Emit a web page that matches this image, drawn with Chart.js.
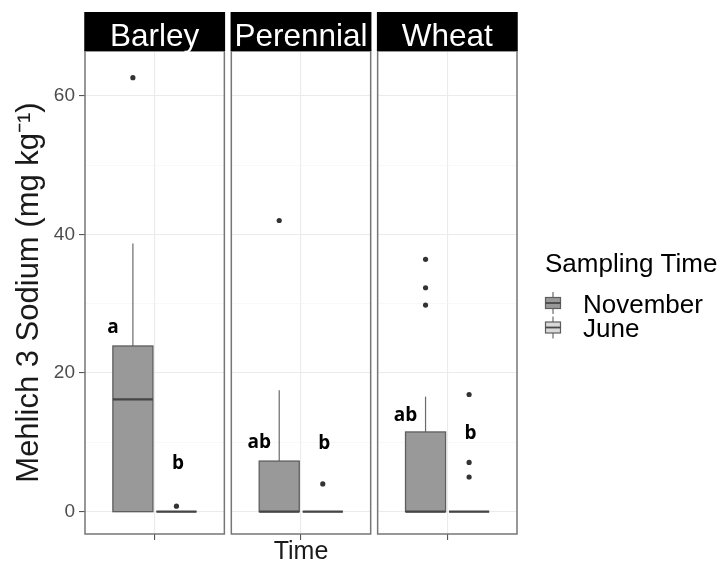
<!DOCTYPE html>
<html>
<head>
<meta charset="utf-8">
<script src="https://cdn.jsdelivr.net/npm/chart.js@4.4.0/dist/chart.umd.min.js"></script>
<style>
html,body{margin:0;padding:0;background:#ffffff;}
#wrap{width:728px;height:565px;position:relative;}
</style>
</head>
<body>
<div id="wrap"><canvas id="c" width="728" height="565"></canvas></div>
<script>
// ---- data ----
const facets = ['Barley', 'Perennial', 'Wheat'];
const groups = ['November', 'June'];
// box stats per facet: [lower whisker, Q1, median, Q3, upper whisker]
const novemberStats = [[0, 0, 16.2, 23.9, 38.7], [0, 0, 0, 7.3, 17.5], [0, 0, 0, 11.5, 16.6]];
const juneStats = [[0, 0, 0, 0, 0], [0, 0, 0, 0, 0], [0, 0, 0, 0, 0]];
const novemberOutliers = [[62.6], [42.0], [36.4, 32.3, 29.8]];
const juneOutliers = [[0.8], [4.0], [16.9, 7.1, 5.0]];
const novemberLetters = ['a', 'ab', 'ab'];
const juneLetters = ['b', 'b', 'b'];
const novemberLetterY = [26.5, 9.9, 13.9];
const juneLetterY = [6.9, 9.8, 11.2];
const yTicks = [0, 10, 20, 30, 40, 50, 60];
const yTickLabels = ['0', '', '20', '', '40', '', '60'];

// ---- layout constants (in data units) ----
const FAMILY = "'Liberation Sans', Arial, sans-serif";
const HALF = 0.6;          // half panel width (discrete expand)
const STEP = 1.26;         // facet spacing incl. gap
const centers = facets.map((f, i) => i * STEP);
const DODGE = 0.1875;
const BOXHALF = 0.1725;
const groupOffset = [-DODGE, DODGE];
const groupFill = ['#999999', '#d9d9d9'];
const allStats = [novemberStats, juneStats];
const allOutliers = [novemberOutliers, juneOutliers];
const allLetters = [novemberLetters, juneLetters];
const allLetterY = [novemberLetterY, juneLetterY];
const letterOffset = [-0.36, 0.2];

const outlierSets = groups.map((g, gi) => ({
  label: g + ' outliers',
  data: allOutliers[gi].flatMap((vals, fi) => vals.map(v => ({ x: centers[fi] + groupOffset[gi], y: v }))),
  backgroundColor: '#333333',
  borderWidth: 0,
  pointRadius: 2.6,
  pointHoverRadius: 2.6
}));

const facetPlugin = {
  id: 'facetPlugin',
  beforeDatasetsDraw(chart) {
    const { ctx, chartArea: a, scales: { x, y } } = chart;
    ctx.save();
    // white gaps between panels
    ctx.fillStyle = '#ffffff';
    for (let i = 0; i < centers.length - 1; i++) {
      const r = x.getPixelForValue(centers[i] + HALF);
      const l = x.getPixelForValue(centers[i + 1] - HALF);
      ctx.fillRect(r, a.top - 2, l - r, a.bottom - a.top + 4);
    }
    // boxplots
    groups.forEach((g, gi) => {
      allStats[gi].forEach((s, fi) => {
        const cx = centers[fi] + groupOffset[gi];
        const px = x.getPixelForValue(cx);
        const x0 = x.getPixelForValue(cx - BOXHALF);
        const x1 = x.getPixelForValue(cx + BOXHALF);
        const [lo, q1, med, q3, hi] = s.map(v => y.getPixelForValue(v));
        ctx.strokeStyle = '#6a6a6a';
        ctx.lineWidth = 1.2;
        ctx.beginPath();
        ctx.moveTo(px, q3); ctx.lineTo(px, hi);
        ctx.moveTo(px, q1); ctx.lineTo(px, lo);
        ctx.stroke();
        ctx.fillStyle = groupFill[gi];
        ctx.fillRect(x0, q3, x1 - x0, q1 - q3);
        ctx.strokeStyle = '#5e5e5e';
        ctx.lineWidth = 1.3;
        ctx.strokeRect(x0, q3, x1 - x0, q1 - q3);
        ctx.strokeStyle = '#454545';
        ctx.lineWidth = 2.3;
        ctx.beginPath();
        ctx.moveTo(x0, med); ctx.lineTo(x1, med);
        ctx.stroke();
      });
    });
    ctx.restore();
  },
  afterDatasetsDraw(chart) {
    const { ctx, chartArea: a, scales: { x, y } } = chart;
    ctx.save();
    // panel borders & strips
    centers.forEach((c, fi) => {
      const l = x.getPixelForValue(c - HALF);
      const r = x.getPixelForValue(c + HALF);
      ctx.strokeStyle = '#767676';
      ctx.lineWidth = 1.5;
      ctx.strokeRect(l, a.top, r - l, a.bottom - a.top);
      ctx.fillStyle = '#000000';
      ctx.fillRect(l - 0.75, 12, r - l + 1.5, a.top - 12);
      ctx.fillStyle = '#ffffff';
      ctx.font = '31.5px ' + FAMILY;
      ctx.textAlign = 'center';
      ctx.textBaseline = 'alphabetic';
      ctx.fillText(facets[fi], (l + r) / 2, 46);
    });
    // letters
    ctx.fillStyle = '#000000';
    ctx.font = "bold 19px 'Open Sans', sans-serif";
    ctx.textAlign = 'center';
    ctx.textBaseline = 'middle';
    groups.forEach((g, gi) => {
      allLetters[gi].forEach((t, fi) => {
        ctx.fillText(t, x.getPixelForValue(centers[fi] + letterOffset[gi]), y.getPixelForValue(allLetterY[gi][fi]));
      });
    });
    // legend
    ctx.textAlign = 'left';
    ctx.textBaseline = 'alphabetic';
    ctx.fillStyle = '#000000';
    ctx.font = '26px ' + FAMILY;
    ctx.fillText('Sampling Time', 545, 272);
    groups.forEach((g, gi) => {
      const cy = 303 + gi * 24.5;
      const cx = 553;
      ctx.strokeStyle = '#6a6a6a';
      ctx.lineWidth = 1.2;
      ctx.beginPath();
      ctx.moveTo(cx, cy - 11); ctx.lineTo(cx, cy + 11);
      ctx.stroke();
      ctx.fillStyle = groupFill[gi];
      ctx.fillRect(cx - 7.5, cy - 5.5, 15, 11);
      ctx.strokeStyle = '#5e5e5e';
      ctx.strokeRect(cx - 7.5, cy - 5.5, 15, 11);
      ctx.strokeStyle = '#484848';
      ctx.lineWidth = 1.8;
      ctx.beginPath();
      ctx.moveTo(cx - 7.5, cy); ctx.lineTo(cx + 7.5, cy);
      ctx.stroke();
      ctx.fillStyle = '#000000';
      ctx.font = '26px ' + FAMILY;
      ctx.fillText(g, 583, cy + 9.5);
    });
    ctx.restore();
  }
};

Chart.defaults.font.family = FAMILY;
new Chart(document.getElementById('c'), {
  type: 'scatter',
  data: { datasets: outlierSets },
  options: {
    responsive: false,
    animation: false,
    events: [],
    layout: { padding: { top: 51, right: 211, left: 0, bottom: 0 } },
    plugins: { legend: { display: false }, tooltip: { enabled: false } },
    scales: {
      x: {
        type: 'linear',
        min: -HALF,
        max: centers[centers.length - 1] + HALF,
        afterBuildTicks: s => { s.ticks = centers.map(v => ({ value: v })); },
        afterFit: s => { s.height = 31; },
        border: { display: false },
        grid: { color: '#ebebeb', lineWidth: 1.1, tickColor: '#555555', tickLength: 6 },
        ticks: { callback: () => '', padding: 0 },
        title: { display: true, text: 'Time', color: '#1a1a1a', font: { size: 25, lineHeight: 1.0, family: FAMILY }, padding: { top: 0, bottom: 0 } }
      },
      y: {
        min: -3.22,
        max: 66.45,
        afterBuildTicks: s => { s.ticks = yTicks.map(v => ({ value: v })); },
        afterFit: s => { s.width = 85; },
        border: { display: false },
        grid: {
          color: c => (c.index % 2 === 0 ? '#ebebeb' : '#f4f4f4'),
          lineWidth: c => (c.index % 2 === 0 ? 1.1 : 0.6),
          tickColor: c => (c.index % 2 === 0 ? '#555555' : 'rgba(0,0,0,0)'),
          tickLength: 6
        },
        ticks: {
          autoSkip: false,
          callback: (v, i) => yTickLabels[i],
          color: '#4d4d4d',
          font: { size: 19, family: FAMILY },
          padding: 4
        },
        title: { display: true, text: 'Mehlich 3 Sodium (mg kg⁻¹)', color: '#1a1a1a', font: { size: 31, family: FAMILY }, padding: { top: 11, bottom: 0 } }
      }
    }
  },
  plugins: [facetPlugin]
});
</script>
</body>
</html>
